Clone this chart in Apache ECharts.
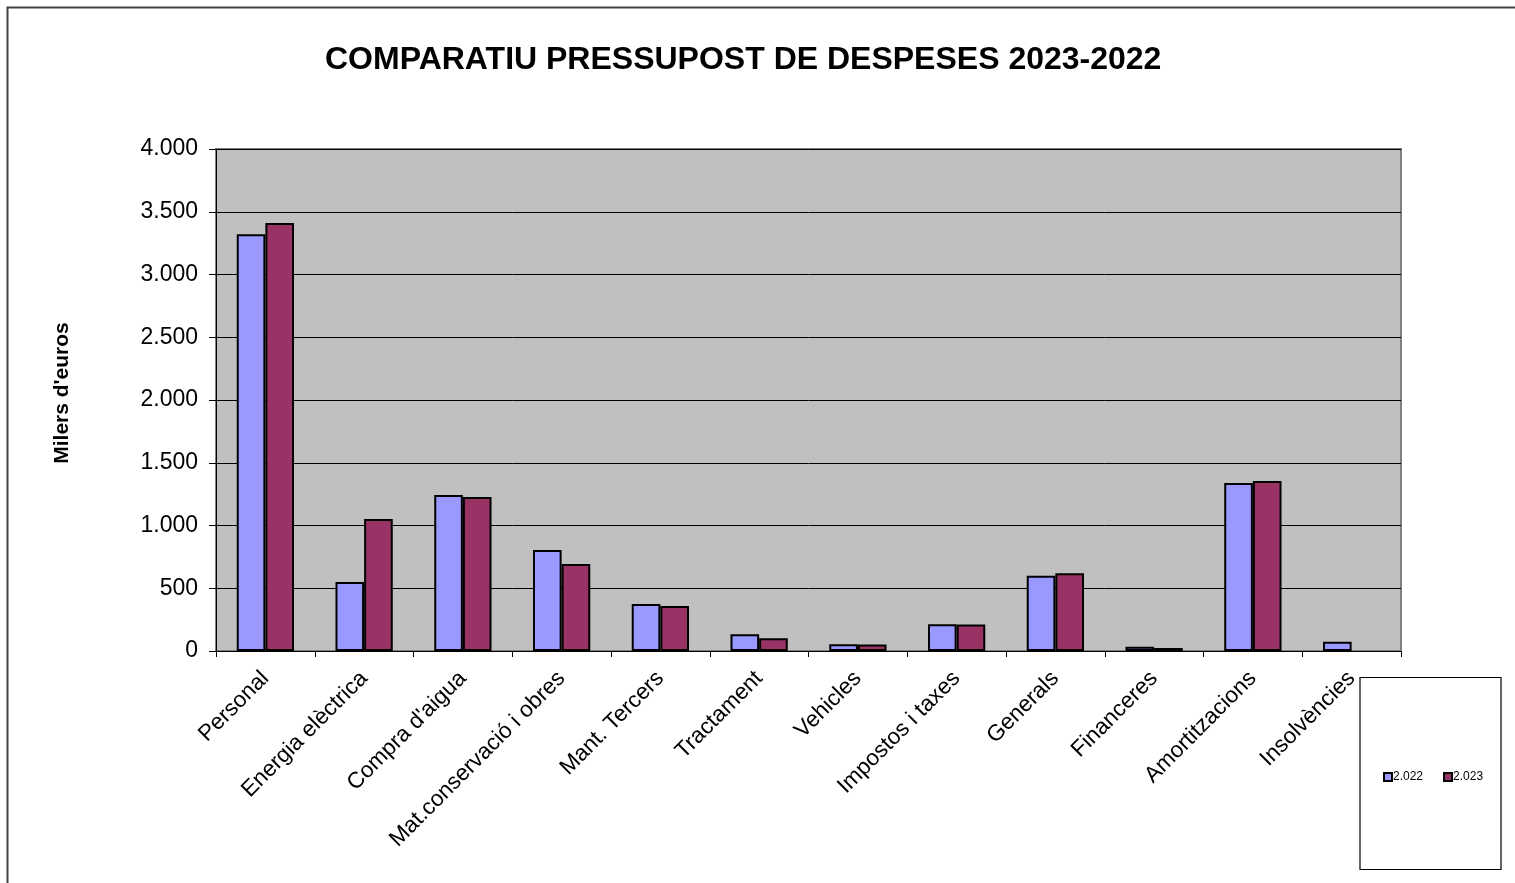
<!DOCTYPE html>
<html><head><meta charset="utf-8">
<script src="https://cdn.jsdelivr.net/npm/echarts@6/dist/echarts.min.js"></script>
<style>html,body{margin:0;padding:0;background:#fff;}#c{width:1515px;height:883px;}</style>
</head><body><div id="c"></div>
<script>
const categories = ["Personal","Energia elèctrica","Compra d'aigua","Mat.conservació i obres","Mant. Tercers","Tractament","Vehicles","Impostos i taxes","Generals","Financeres","Amortitzacions","Insolvències"];
const values2022 = [3320, 550, 1243, 805, 375, 133, 53, 213, 600, 34, 1339, 74];
const values2023 = [3410, 1052, 1227, 693, 359, 101, 52, 212, 619, 24, 1355, null];
const seriesNames = ["2.022", "2.023"];
const yTicks = {min: 0, max: 4000, interval: 500};

const fmt = v => v >= 1000 ? Math.floor(v/1000) + '.' + String(v%1000).padStart(3,'0') : String(v);
const chart = echarts.init(document.getElementById('c'));
const font = "Liberation Sans, Arial, sans-serif";
chart.setOption({
  animation: false,
  backgroundColor: '#fff',
  textStyle: {fontFamily: font},
  title: {
    text: 'COMPARATIU PRESSUPOST DE DESPESES 2023-2022',
    left: 320, top: 39,
    textStyle: {fontFamily: font, fontSize: 32, fontWeight: 'bold', color: '#000'}
  },
  graphic: [
    {type: 'polyline', shape: {points: [[7.5, 883], [7.5, 7.5], [1515, 7.5]]}, style: {stroke: '#404040', lineWidth: 2, fill: null}, z: 100},
    {type: 'rect', shape: {x: 1360, y: 677.5, width: 141, height: 192}, style: {stroke: '#000', lineWidth: 1.2, fill: '#fff'}, z: 5}
  ],
  legend: {
    left: 1378, top: 766,
    itemWidth: 8, itemHeight: 8, itemGap: 20,
    icon: 'rect',
    textStyle: {fontFamily: font, fontSize: 12, color: '#000', padding: [0,0,0,-4]},
    z: 10,
    data: seriesNames.map((n) => ({name: n, itemStyle: {borderColor: '#000', borderWidth: 2}}))
  },
  grid: {left: 216, right: 114, top: 149, bottom: 232, show: true, backgroundColor: '#C0C0C0', borderColor: '#808080', borderWidth: 2, containLabel: false},
  xAxis: {
    type: 'category', data: categories,
    axisLine: {lineStyle: {color: '#000', width: 1}},
    axisTick: {show: true, length: 6, lineStyle: {color: '#000'}, alignWithLabel: false},
    axisLabel: {rotate: 45, interval: 0, fontFamily: font, fontSize: 22.5, color: '#000', margin: 24}
  },
  yAxis: {
    type: 'value', min: yTicks.min, max: yTicks.max, interval: yTicks.interval,
    name: "Milers d'euros", nameLocation: 'middle', nameGap: 143, nameRotate: 90,
    nameTextStyle: {fontFamily: font, fontSize: 21, fontWeight: 'bold', color: '#000', padding: [0,0,0,14]},
    axisLine: {show: true, lineStyle: {color: '#000'}},
    axisTick: {show: true, length: 7, lineStyle: {color: '#000'}},
    axisLabel: {fontFamily: font, fontSize: 23, color: '#000', margin: 18, formatter: fmt},
    splitLine: {show: true, lineStyle: {color: '#000', width: 1}}
  },
  series: [
    {name: seriesNames[0], type: 'bar', data: values2022, barGap: '0%', barCategoryGap: '42%',
     itemStyle: {color: '#9999FF', borderColor: '#000', borderWidth: 2}},
    {name: seriesNames[1], type: 'bar', data: values2023, barGap: '0%', barCategoryGap: '42%',
     itemStyle: {color: '#993366', borderColor: '#000', borderWidth: 2}}
  ]
});
</script></body></html>
